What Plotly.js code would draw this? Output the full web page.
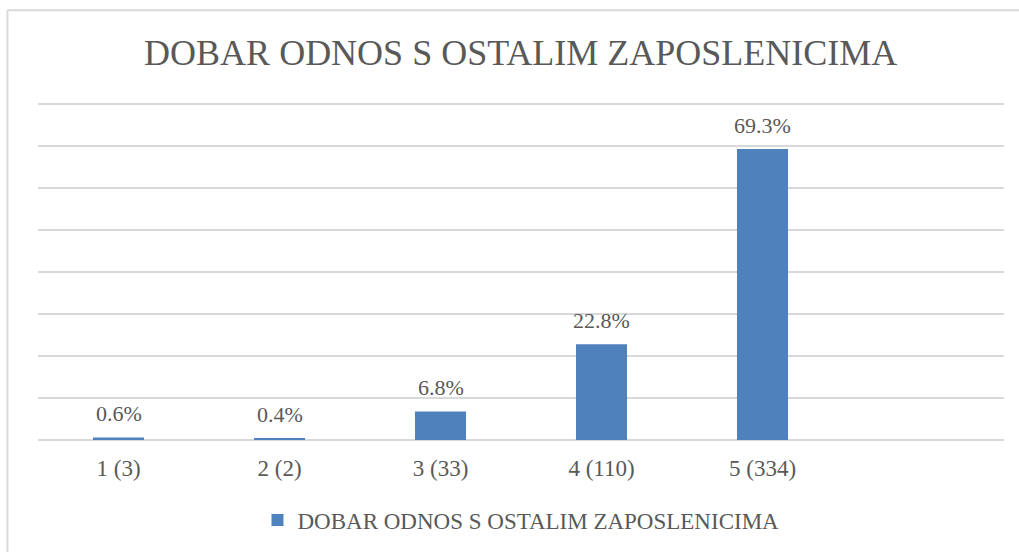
<!DOCTYPE html>
<html>
<head>
<meta charset="utf-8">
<script src="https://cdn.plot.ly/plotly-3.0.1.min.js"></script>
<style>
  html, body { margin: 0; padding: 0; background: #ffffff; }
  #chart { width: 1019px; height: 552px; }
  #chart svg text { font-family: "Liberation Serif", "Times New Roman", serif !important; }
</style>
</head>
<body>
<div id="chart"></div>
<script>
const categories = ["1 (3)", "2 (2)", "3 (33)", "4 (110)", "5 (334)"];
const percentValues = [0.6, 0.4, 6.8, 22.8, 69.3];
const seriesName = "DOBAR ODNOS S OSTALIM ZAPOSLENICIMA";
const chartTitle = "DOBAR ODNOS S OSTALIM ZAPOSLENICIMA";

const FONT = 'Liberation Serif';
const TEXT = '#595959';
const GRID = '#d9d9d9';
const BAR = '#4f81bd';

const trace = {
  type: 'bar',
  x: categories,
  y: percentValues,
  name: seriesName,
  marker: { color: BAR },
  hoverinfo: 'none'
};

const annotations = categories.map((c, i) => ({
  x: c,
  y: percentValues[i],
  xref: 'x',
  yref: 'y',
  text: percentValues[i].toFixed(1) + '%',
  showarrow: false,
  yanchor: 'bottom',
  yshift: 9,
  font: { family: FONT, size: 22, color: TEXT }
}));

const layout = {
  width: 1019,
  height: 552,
  margin: { l: 38, r: 15, t: 100, b: 112 },
  paper_bgcolor: '#ffffff',
  plot_bgcolor: '#ffffff',
  font: { family: FONT, color: TEXT },
  title: {
    text: chartTitle,
    font: { family: FONT, size: 36, color: TEXT },
    x: 0.511,
    xanchor: 'center',
    y: 0.905,
    yanchor: 'middle'
  },
  xaxis: {
    type: 'category',
    range: [-0.5, 5.5],
    showgrid: false,
    showline: false,
    zeroline: false,
    ticks: '',
    ticklabelstandoff: 12,
    tickfont: { family: FONT, size: 23, color: TEXT },
    fixedrange: true
  },
  yaxis: {
    range: [0, 81],
    dtick: 10,
    showgrid: true,
    gridcolor: GRID,
    gridwidth: 1.5,
    zeroline: true,
    zerolinecolor: GRID,
    zerolinewidth: 1.5,
    showticklabels: false,
    ticks: '',
    fixedrange: true
  },
  bargap: 0.683,
  showlegend: true,
  legend: {
    orientation: 'h',
    x: 0.5,
    xanchor: 'center',
    yref: 'container',
    y: 0.058,
    yanchor: 'middle',
    font: { family: FONT, size: 23, color: TEXT }
  },
  annotations: annotations,
  shapes: [
    { type: 'line', xref: 'paper', yref: 'paper', x0: -0.0316, x1: -0.0316, y0: -0.5, y1: 1.264, line: { color: GRID, width: 2 } },
    { type: 'line', xref: 'paper', yref: 'paper', x0: -0.0316, x1: 1.05, y0: 1.264, y1: 1.264, line: { color: GRID, width: 2 } }
  ]
};

Plotly.newPlot('chart', [trace], layout, { displayModeBar: false }).then(function (gd) {
  gd.querySelectorAll('text').forEach(function (t) {
    t.style.fontFamily = '"Liberation Serif", serif';
  });
});
</script>
</body>
</html>
